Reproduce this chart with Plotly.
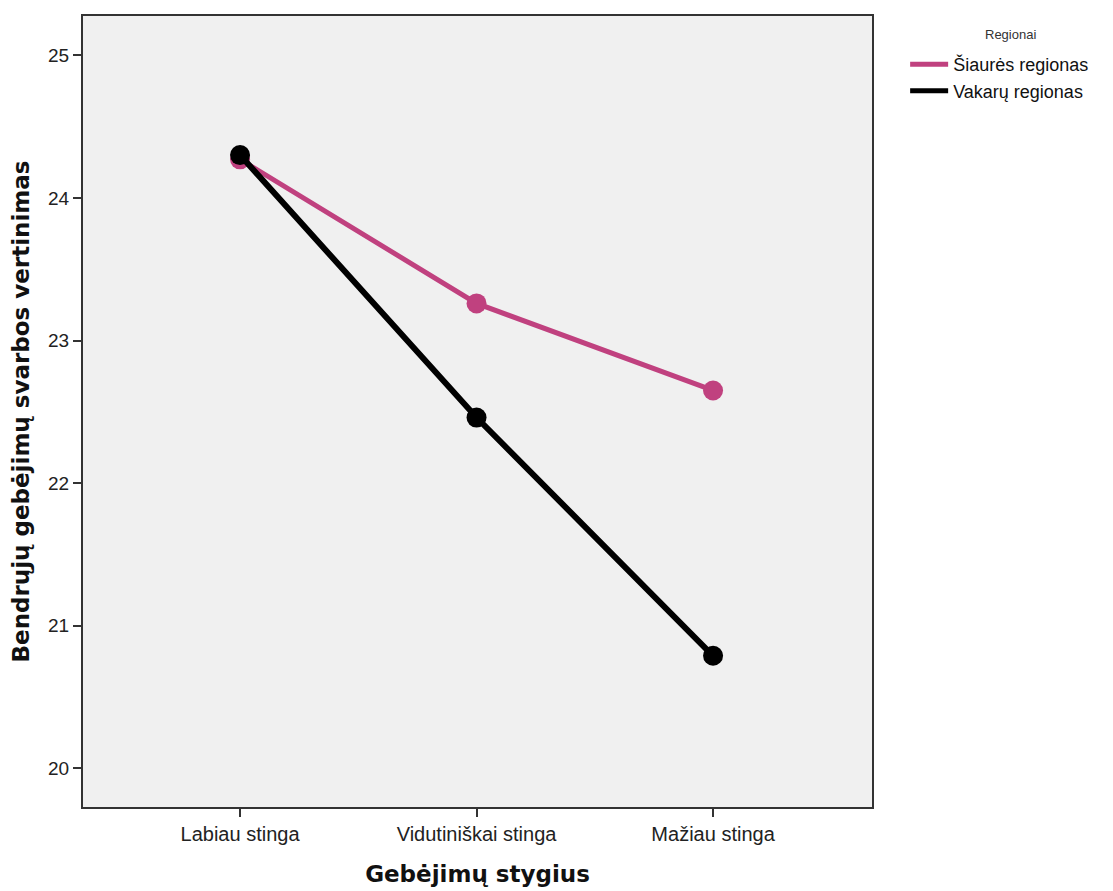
import plotly.graph_objects as go

categories = ["Labiau stinga", "Vidutiniškai stinga", "Mažiau stinga"]
siaures = [24.27, 23.26, 22.65]
vakaru = [24.30, 22.46, 20.79]
series_names = ["Šiaurės regionas", "Vakarų regionas"]
legend_title = "Regionai"
y_ticks = [20, 21, 22, 23, 24, 25]
colors = ["#c0417f", "#000000"]
line_widths = [5, 6]

fig = go.Figure()
for vals, name, col, lw in zip([siaures, vakaru], series_names, colors, line_widths):
    fig.add_trace(go.Scatter(
        x=categories, y=vals, name=name, mode="lines+markers",
        line=dict(color=col, width=lw),
        marker=dict(color=col, size=20),
        showlegend=False,
    ))
# legend entries (line only, as in the reference)
for name, col in zip(series_names, colors):
    fig.add_trace(go.Scatter(
        x=[None], y=[None], name=name, mode="lines",
        line=dict(color=col, width=5),
        showlegend=True,
    ))

fig.add_annotation(
    text=legend_title, xref="paper", yref="paper", x=1.175, y=0.977,
    xanchor="center", yanchor="middle", showarrow=False,
    font=dict(size=13, color="#333"),
)

fig.update_layout(
    width=1105, height=883,
    margin=dict(l=75, r=241, t=6, b=84),
    paper_bgcolor="white",
    plot_bgcolor="#f0f0f0",
    font=dict(family="Liberation Sans, Arial, sans-serif", color="#222"),
    showlegend=True,
    legend=dict(
        x=1.042, y=0.962, xanchor="left", yanchor="top",
        font=dict(size=18, color="#111"),
        itemwidth=38, tracegroupgap=0,
        bgcolor="rgba(0,0,0,0)",
    ),
    xaxis=dict(
        type="category", range=[-0.664, 2.672],
        showgrid=False, zeroline=False,
        showline=True, linecolor="#333", linewidth=2, mirror=True,
        ticks="outside", ticklen=8, tickwidth=2, tickcolor="#333",
        tickfont=dict(size=20, color="#222"),
        title=dict(text="Gebėjimų stygius", standoff=22,
                   font=dict(family="DejaVu Sans, sans-serif", size=23, color="#111", weight="bold")),
    ),
    yaxis=dict(
        range=[19.73, 25.275], tickvals=y_ticks,
        showgrid=False, zeroline=False,
        showline=True, linecolor="#333", linewidth=2, mirror=True,
        ticks="outside", ticklen=8, tickwidth=2, tickcolor="#333",
        tickfont=dict(size=19, color="#222"),
        title=dict(text="Bendrųjų gebėjimų svarbos vertinimas", standoff=16,
                   font=dict(family="DejaVu Sans, sans-serif", size=23, color="#111", weight="bold")),
    ),
)

fig.write_html("out.html")
